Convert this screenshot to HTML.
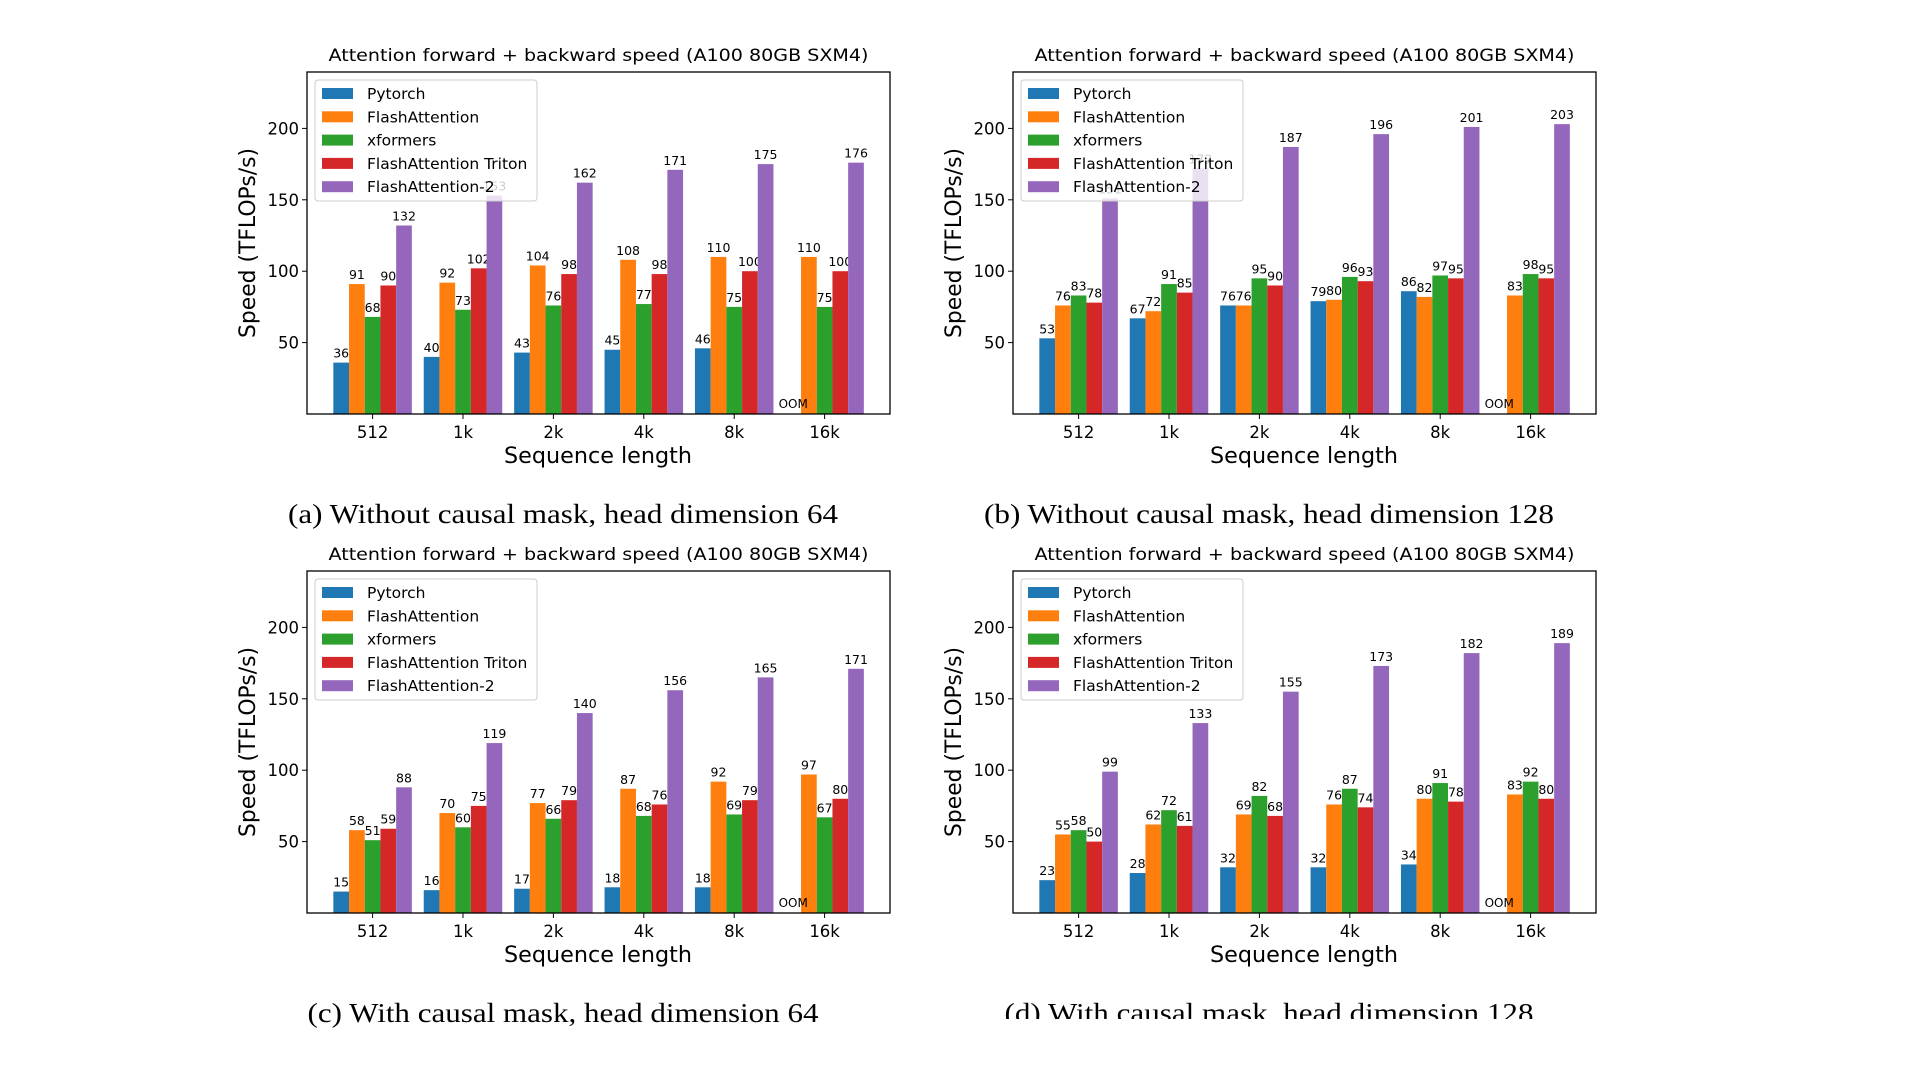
<!DOCTYPE html>
<html><head><meta charset="utf-8">
<style>
html,body{margin:0;padding:0;background:#fff;}
svg{display:block;}
text{font-family:"DejaVu Sans","Liberation Sans",sans-serif;fill:#000;}
.cap{font-family:"Liberation Serif","DejaVu Serif",serif;}
</style></head>
<body>
<svg id="root" width="1920" height="1080" viewBox="0 0 1920 1080" xmlns="http://www.w3.org/2000/svg">
<rect x="0" y="0" width="1920" height="1080" fill="#fff"/>
<defs><clipPath id="clipd"><rect x="0" y="0" width="1920" height="1019"/></clipPath></defs>
</svg>
<script>
const categories = ["512","1k","2k","4k","8k","16k"];
const seriesNames = ["Pytorch","FlashAttention","xformers","FlashAttention Triton","FlashAttention-2"];
const yTicks = [50,100,150,200];
// chart a
const aPytorch = [36,40,43,45,46,null];
const aFlash = [91,92,104,108,110,110];
const aXformers = [68,73,76,77,75,75];
const aTriton = [90,102,98,98,100,100];
const aFlash2 = [132,153,162,171,175,176];
// chart b
const bPytorch = [53,67,76,79,86,null];
const bFlash = [76,72,76,80,82,83];
const bXformers = [83,91,95,96,97,98];
const bTriton = [78,85,90,93,95,95];
const bFlash2 = [151,172,187,196,201,203];
// chart c
const cPytorch = [15,16,17,18,18,null];
const cFlash = [58,70,77,87,92,97];
const cXformers = [51,60,66,68,69,67];
const cTriton = [59,75,79,76,79,80];
const cFlash2 = [88,119,140,156,165,171];
// chart d
const dPytorch = [23,28,32,32,34,null];
const dFlash = [55,62,69,76,80,83];
const dXformers = [58,72,82,87,91,92];
const dTriton = [50,61,68,74,78,80];
const dFlash2 = [99,133,155,173,182,189];

const colors = ["#1f77b4","#ff7f0e","#2ca02c","#d62728","#9467bd"];
const NS = "http://www.w3.org/2000/svg";
const root = document.getElementById('root');
function mk(tag, attrs, parent, txt){
  const e = document.createElementNS(NS, tag);
  for (const k in attrs) e.setAttribute(k, attrs[k]);
  if (txt !== undefined) e.textContent = txt;
  (parent||root).appendChild(e);
  return e;
}
function drawChart(id, gx, gy, series, caption, capLen, clip){
  const g = mk('g', {});
  
  
  const L = 307+gx, R = 890+gx, T = 72+gy, B = 414+gy;
  const yS = v => B - v*1.428;
  const xC = i => 372.6 + gx + i*90.4;
  const bw = 15.7;
  const t = mk('text', {x:(L+R)/2, y:61+gy, 'text-anchor':'middle', 'font-size':16.5, textLength:540, lengthAdjust:'spacingAndGlyphs'}, g, "Attention forward + backward speed (A100 80GB SXM4)");
  
  
  const ooms = [];
  series.forEach((vals, j) => {
    vals.forEach((v, i) => {
      const x = xC(i) + (j-2.5)*bw;
      if (v === null) { ooms.push(x+bw/2); return; }
      const r = mk('rect', {x:x, y:yS(v), width:bw, height:B-yS(v), fill:colors[j]}, g);
      
      
      const lb = mk('text', {x:x+bw/2, y:yS(v)-5, 'text-anchor':'middle', 'font-size':12.5}, g, String(v));
      
      
    });
  });
  ooms.forEach(cx => {
    const o = mk('text', {x:cx, y:B-6, 'text-anchor':'middle', 'font-size':12}, g, "OOM");
    
    
  });
  const fr = mk('rect', {x:L, y:T, width:R-L, height:B-T, fill:'none', stroke:'#000', 'stroke-width':1.3}, g);
  
  
  yTicks.forEach(v => {
    mk('line', {x1:L-5, x2:L, y1:yS(v), y2:yS(v), stroke:'#000', 'stroke-width':1}, g);
    const tl = mk('text', {x:L-8, y:yS(v)+6, 'text-anchor':'end', 'font-size':16.5}, g, String(v));
    
    
  });
  categories.forEach((c, i) => {
    mk('line', {x1:xC(i), x2:xC(i), y1:B, y2:B+5, stroke:'#000', 'stroke-width':1}, g);
    const tl = mk('text', {x:xC(i), y:438+gy, 'text-anchor':'middle', 'font-size':16.5}, g, c);
    
    
  });
  const xl = mk('text', {x:598+gx, y:463+gy, 'text-anchor':'middle', 'font-size':22, textLength:188, lengthAdjust:'spacingAndGlyphs'}, g, "Sequence length");
  
  
  const yl = mk('text', {x:0, y:0, 'text-anchor':'middle', 'font-size':22, textLength:190, lengthAdjust:'spacingAndGlyphs', transform:'translate(' + (255+gx) + ',' + (243+gy) + ') rotate(-90)'}, g, "Speed (TFLOPs/s)");
  
  
  const lg = mk('g', {}, g);
  
  
  mk('rect', {x:315+gx, y:80+gy, width:222, height:121, rx:3, fill:'rgba(255,255,255,0.8)', stroke:'#ccc', 'stroke-width':1}, lg);
  seriesNames.forEach((n, j) => {
    const yy = 93 + gy + j*23.3;
    const e = mk('g', {}, lg);
    
    
    mk('rect', {x:322+gx, y:yy-5, width:31, height:11, fill:colors[j]}, e);
    mk('text', {x:367+gx, y:yy+6, 'font-size':15.5}, e, n);
  });
  const cg = clip ? mk('g', {'clip-path':'url(#clipd)'}) : root;
  const cp = mk('text', {x:563+gx, y:523+gy, 'text-anchor':'middle', 'font-size':27, textLength:capLen, lengthAdjust:'spacingAndGlyphs', class:'cap'}, cg, caption);
  
  
}
drawChart('a', 0, 0, [aPytorch,aFlash,aXformers,aTriton,aFlash2], "(a) Without causal mask, head dimension 64", 550, false);
drawChart('b', 706, 0, [bPytorch,bFlash,bXformers,bTriton,bFlash2], "(b) Without causal mask, head dimension 128", 570, false);
drawChart('c', 0, 499, [cPytorch,cFlash,cXformers,cTriton,cFlash2], "(c) With causal mask, head dimension 64", 511, false);
drawChart('d', 706, 499, [dPytorch,dFlash,dXformers,dTriton,dFlash2], "(d) With causal mask, head dimension 128", 529, true);
</script>
</body></html>
